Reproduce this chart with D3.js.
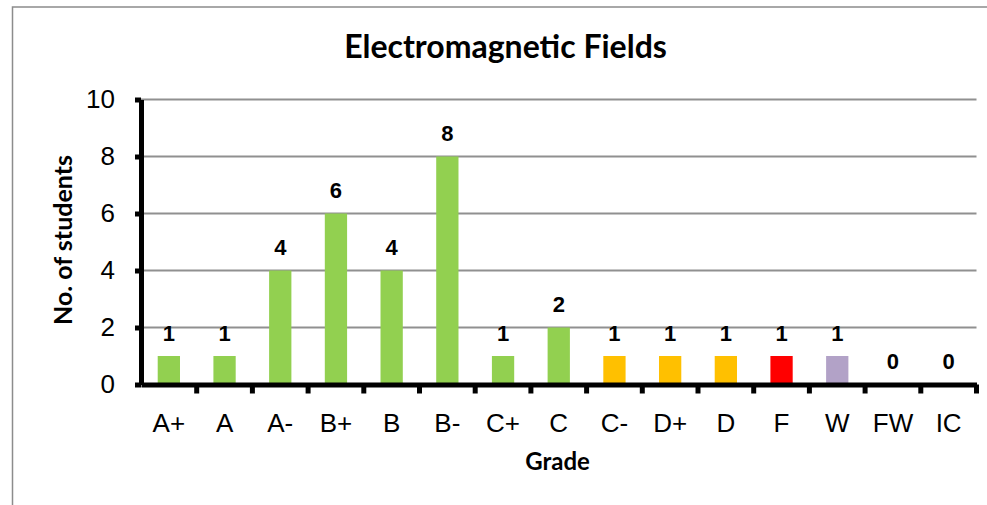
<!DOCTYPE html>
<html>
<head>
<meta charset="utf-8">
<script src="https://cdn.jsdelivr.net/npm/d3@7"></script>
<style>
body { margin: 0; background: #fff; }
</style>
</head>
<body>
<div id="my_dataviz"></div>
<script>
var grades = ["A+", "A", "A-", "B+", "B", "B-", "C+", "C", "C-", "D+", "D", "F", "W", "FW", "IC"];
var students = [1, 1, 4, 6, 4, 8, 1, 2, 1, 1, 1, 1, 1, 0, 0];
var barColors = ["#92D050", "#92D050", "#92D050", "#92D050", "#92D050", "#92D050", "#92D050", "#92D050",
  "#FFC000", "#FFC000", "#FFC000", "#FF0000", "#B2A2C7", "#92D050", "#92D050"];
var yTicks = [0, 2, 4, 6, 8, 10];

var arial = "'Liberation Sans', Arial, sans-serif";

var margin = {top: 99.5, right: 10.5, bottom: 120.5, left: 141},
width = 987 - margin.left - margin.right,
height = 505 - margin.top - margin.bottom;

var root = d3.select('#my_dataviz')
.append('svg')
.attr('width', 987)
.attr('height', 505)

// chart frame (only top and left edges fall inside the picture)
root.append('rect')
.attr('x', 12.5)
.attr('y', 7)
.attr('width', 1100)
.attr('height', 700)
.attr('fill', 'none')
.attr('stroke', '#8c8c8c')
.attr('stroke-width', 1.5)

root.append('text')
.attr('x', 505.5)
.attr('y', 58)
.attr('text-anchor', 'middle')
.style('font-family', 'Lato, sans-serif')
.style('font-weight', 'bold')
.style('font-size', '32px')
.text('Electromagnetic Fields')

var svg = root.append('g')
.attr('transform', 'translate(' + margin.left + ',' + margin.top + ')');

var x = d3.scaleBand()
.range([0, width])
.domain(grades)
.paddingInner(0.6)
.paddingOuter(0.3)

var y = d3.scaleLinear()
.range([height, 0])
.domain([0, 10])

// gridlines
svg.selectAll('.grid')
.data(yTicks.filter(function(d) { return d > 0; }))
.enter()
.append('line')
.attr('x1', 0)
.attr('x2', width)
.attr('y1', function(d) { return y(d); })
.attr('y2', function(d) { return y(d); })
.attr('stroke', '#909090')
.attr('stroke-width', 2)

// bars
svg.selectAll('.bar')
.data(grades)
.enter()
.append('rect')
.attr('x', function(d) { return x(d); })
.attr('y', function(d, i) { return y(students[i]); })
.attr('width', x.bandwidth())
.attr('height', function(d, i) { return height - y(students[i]); })
.attr('fill', function(d, i) { return barColors[i]; })

// value labels
svg.selectAll('.val')
.data(grades)
.enter()
.append('text')
.attr('x', function(d) { return x(d) + x.bandwidth() / 2; })
.attr('y', function(d, i) { return y(students[i]) - 15.5; })
.attr('text-anchor', 'middle')
.style('font-family', arial)
.style('font-weight', 'bold')
.style('font-size', '22px')
.text(function(d, i) { return students[i]; })

// y axis
var yAxis = svg.append('g')
.call(d3.axisLeft(y).tickValues(yTicks).tickSizeInner(6).tickSizeOuter(0).tickPadding(20))
yAxis.select('.domain').attr('stroke', '#000').attr('stroke-width', 5)
yAxis.selectAll('.tick line').attr('stroke', '#000').attr('stroke-width', 5)
yAxis.selectAll('.tick text')
.style('font-family', arial)
.style('font-size', '26px')
.attr('fill', '#000')

// x axis: labels at band centres, ticks at band edges
var xAxis = svg.append('g')
.attr('transform', 'translate(0,' + height + ')')
.call(d3.axisBottom(x).tickSize(0).tickPadding(29))
xAxis.select('.domain').attr('stroke', '#000').attr('stroke-width', 5)
xAxis.selectAll('.tick text')
.style('font-family', arial)
.style('font-size', '26px')
.attr('fill', '#000')

var edges = grades.map(function(d) { return x(d) - x.step() * x.paddingOuter(); });
edges.push(width);
xAxis.selectAll('.edge')
.data(edges.slice(1))
.enter()
.append('line')
.attr('x1', function(d) { return d; })
.attr('x2', function(d) { return d; })
.attr('y1', 0)
.attr('y2', 9)
.attr('stroke', '#000')
.attr('stroke-width', 5)

svg.append('text')
.attr('x', 557.5 - margin.left)
.attr('y', 470 - margin.top)
.attr('text-anchor', 'middle')
.style('font-family', 'Lato, sans-serif')
.style('font-weight', 'bold')
.style('font-size', '24px')
.text('Grade')

svg.append('text')
.attr('transform', 'translate(' + (72 - margin.left) + ',' + (240 - margin.top) + ') rotate(-90)')
.attr('text-anchor', 'middle')
.style('font-family', 'Lato, sans-serif')
.style('font-weight', 'bold')
.style('font-size', '25px')
.text('No. of students')
</script>
</body>
</html>
